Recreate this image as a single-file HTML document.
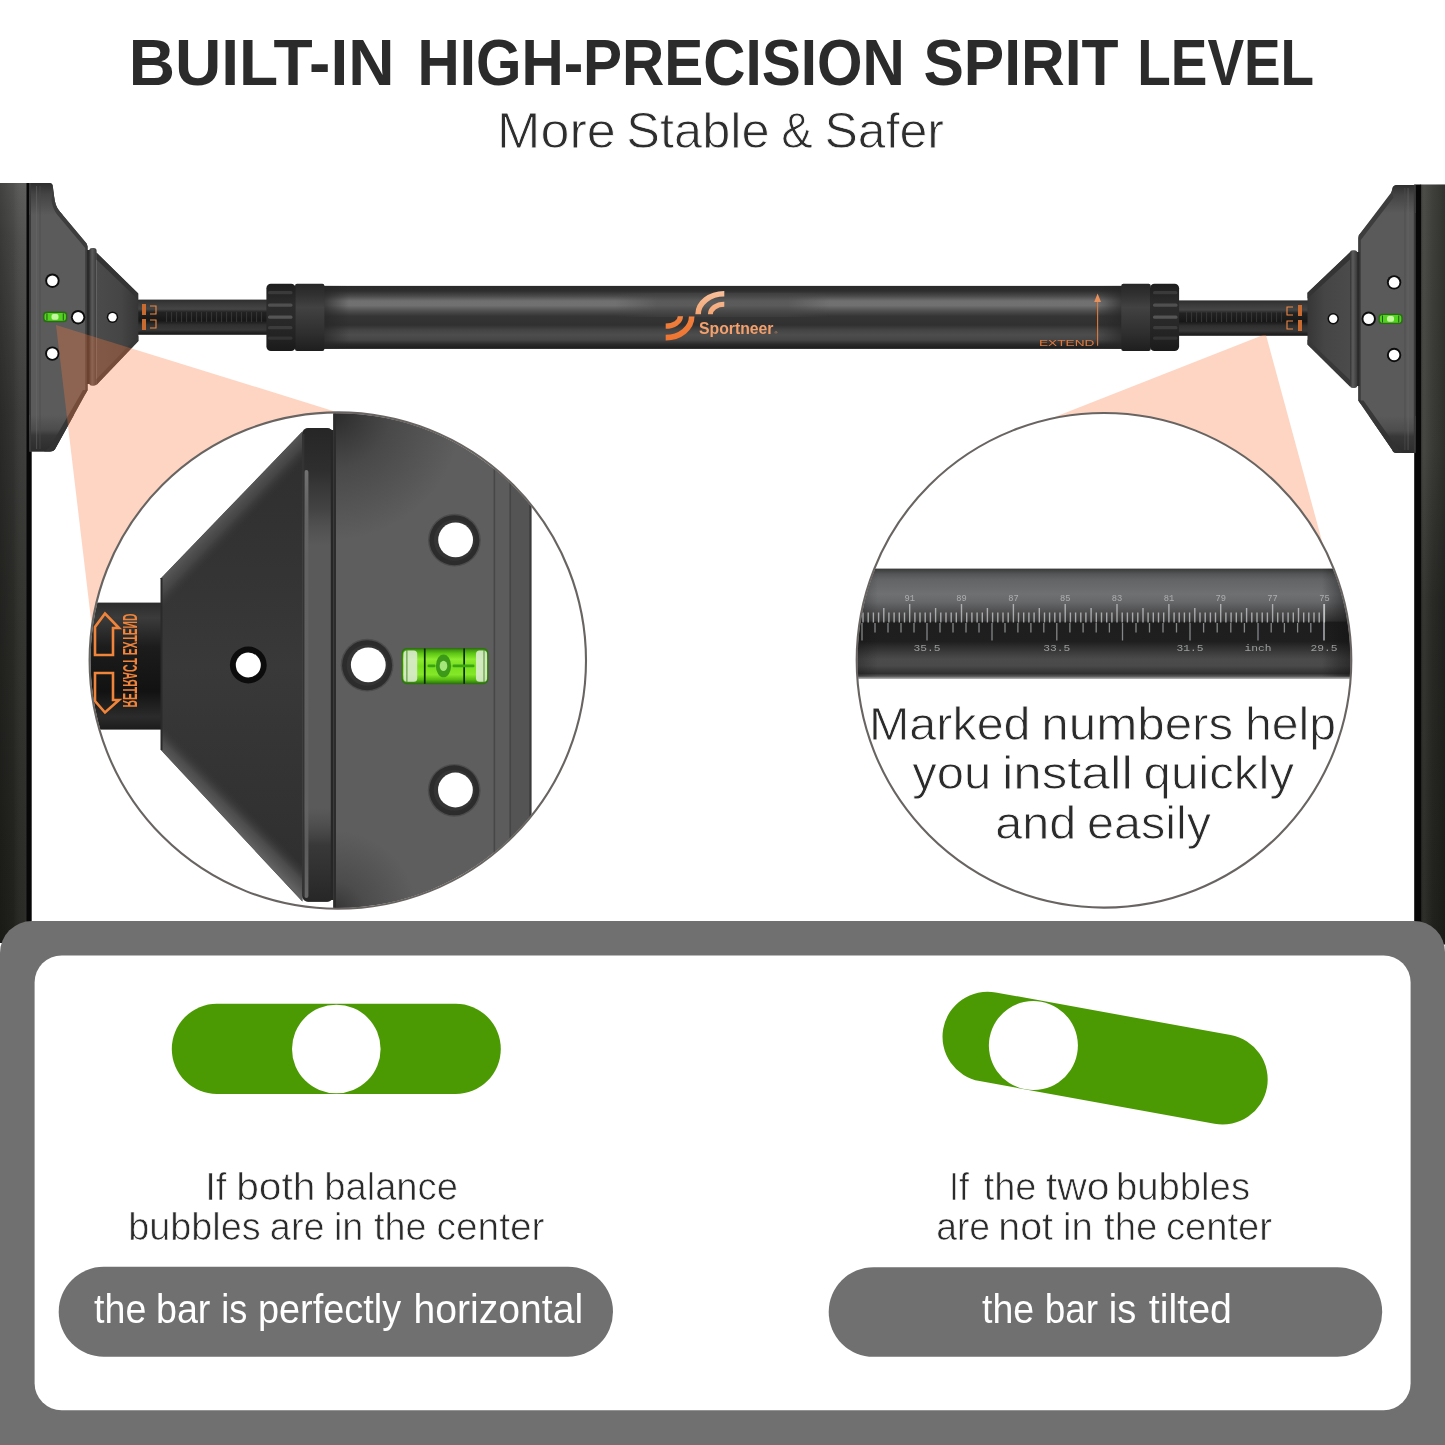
<!DOCTYPE html>
<html lang="en"><head><meta charset="utf-8"><title>Built-in high-precision spirit level</title>
<style>
html,body{margin:0;padding:0;background:#fff;}
body{width:1445px;height:1445px;overflow:hidden;}
svg{display:block;will-change:transform;}
text{font-family:"Liberation Sans",sans-serif;}
.mono text{font-family:"Liberation Mono","DejaVu Sans Mono",monospace;}
</style></head><body>
<svg width="1445" height="1445" viewBox="0 0 1445 1445">
<defs>
<linearGradient id="gTube" x1="0" y1="0" x2="0" y2="1">
 <stop offset="0" stop-color="#292929"/><stop offset="0.08" stop-color="#2e2e2e"/><stop offset="0.16" stop-color="#4a4a4a"/><stop offset="0.24" stop-color="#707070"/><stop offset="0.31" stop-color="#717171"/>
 <stop offset="0.4" stop-color="#4e4e4e"/><stop offset="0.48" stop-color="#353535"/><stop offset="0.62" stop-color="#303030"/><stop offset="0.7" stop-color="#444"/><stop offset="0.78" stop-color="#4d4d4d"/>
 <stop offset="0.86" stop-color="#454545"/><stop offset="0.93" stop-color="#2a2a2a"/><stop offset="1" stop-color="#1c1c1c"/>
</linearGradient>
<linearGradient id="gThin" x1="0" y1="0" x2="0" y2="1">
 <stop offset="0" stop-color="#2e2e2e"/><stop offset="0.12" stop-color="#3a3a3a"/><stop offset="0.27" stop-color="#454545"/><stop offset="0.36" stop-color="#222"/><stop offset="0.6" stop-color="#171717"/>
 <stop offset="0.72" stop-color="#303030"/><stop offset="0.86" stop-color="#383838"/><stop offset="0.94" stop-color="#222"/><stop offset="1" stop-color="#181818"/>
</linearGradient>
<linearGradient id="gNut" x1="0" y1="0" x2="0" y2="1">
 <stop offset="0" stop-color="#1e1e1e"/><stop offset="0.3" stop-color="#2c2c2c"/><stop offset="0.5" stop-color="#2a2a2a"/><stop offset="0.8" stop-color="#222"/><stop offset="1" stop-color="#1a1a1a"/>
</linearGradient>
<linearGradient id="gCollar" x1="0" y1="0" x2="0" y2="1">
 <stop offset="0" stop-color="#272727"/><stop offset="0.15" stop-color="#303030"/><stop offset="0.35" stop-color="#424242"/><stop offset="0.5" stop-color="#3a3a3a"/><stop offset="0.75" stop-color="#2e2e2e"/><stop offset="1" stop-color="#1e1e1e"/>
</linearGradient>
<linearGradient id="gRimL" x1="0" y1="0" x2="1" y2="0">
 <stop offset="0" stop-color="#222"/><stop offset="0.35" stop-color="#3a3a3a"/><stop offset="0.7" stop-color="#303030"/><stop offset="1" stop-color="#2a2a2a"/>
</linearGradient>
<linearGradient id="gRimR" x1="1" y1="0" x2="0" y2="0">
 <stop offset="0" stop-color="#222"/><stop offset="0.35" stop-color="#3a3a3a"/><stop offset="0.7" stop-color="#303030"/><stop offset="1" stop-color="#2a2a2a"/>
</linearGradient>
<linearGradient id="gStripL" x1="0" y1="0" x2="1" y2="0">
 <stop offset="0" stop-color="#30312c"/><stop offset="0.45" stop-color="#3a3b36"/><stop offset="0.8" stop-color="#33342f"/><stop offset="0.86" stop-color="#0a0a0a"/><stop offset="1" stop-color="#050505"/>
</linearGradient>
<linearGradient id="gStripR" x1="1" y1="0" x2="0" y2="0">
 <stop offset="0" stop-color="#30312c"/><stop offset="0.45" stop-color="#3a3b36"/><stop offset="0.76" stop-color="#33342f"/><stop offset="0.8" stop-color="#0a0a0a"/><stop offset="1" stop-color="#050505"/>
</linearGradient>
<linearGradient id="gBigThin" x1="0" y1="0" x2="0" y2="1">
 <stop offset="0" stop-color="#2c2c2c"/><stop offset="0.12" stop-color="#3b3b3b"/><stop offset="0.35" stop-color="#1c1c1c"/>
 <stop offset="0.7" stop-color="#121212"/><stop offset="0.9" stop-color="#2b2b2b"/><stop offset="1" stop-color="#1b1b1b"/>
</linearGradient>
<linearGradient id="gBigCone" x1="0" y1="0" x2="0" y2="1">
 <stop offset="0" stop-color="#2e2e2e"/><stop offset="0.35" stop-color="#353535"/><stop offset="0.5" stop-color="#393939"/><stop offset="0.65" stop-color="#353535"/><stop offset="1" stop-color="#2e2e2e"/>
</linearGradient>
<linearGradient id="gBigFlange" x1="0" y1="0" x2="1" y2="0">
 <stop offset="0" stop-color="#2a2a2a"/><stop offset="0.25" stop-color="#4c4c4c"/><stop offset="0.6" stop-color="#3a3a3a"/><stop offset="0.92" stop-color="#1c1c1c"/><stop offset="1" stop-color="#161616"/>
</linearGradient>
<linearGradient id="gBigPlate" x1="0" y1="0" x2="1" y2="0">
 <stop offset="0" stop-color="#3a3a3a"/><stop offset="0.04" stop-color="#4e4e4e"/><stop offset="0.15" stop-color="#494949"/><stop offset="1" stop-color="#474747"/>
</linearGradient>
<linearGradient id="gRuler" gradientUnits="userSpaceOnUse" x1="0" y1="568.6" x2="0" y2="679">
 <stop offset="0" stop-color="#383838"/><stop offset="0.05" stop-color="#555657"/><stop offset="0.1" stop-color="#636466"/><stop offset="0.23" stop-color="#6e7072"/><stop offset="0.3" stop-color="#66686a"/>
 <stop offset="0.4" stop-color="#4c4c4d"/><stop offset="0.475" stop-color="#353535"/><stop offset="0.485" stop-color="#1e1e1e"/><stop offset="0.66" stop-color="#1f1f1f"/><stop offset="0.76" stop-color="#3c3c3c"/>
 <stop offset="0.82" stop-color="#4b4b4b"/><stop offset="0.88" stop-color="#4a4a4a"/><stop offset="0.95" stop-color="#303030"/><stop offset="0.975" stop-color="#555"/><stop offset="1" stop-color="#bbb"/>
</linearGradient>
<linearGradient id="gVial" x1="0" y1="0" x2="0" y2="1">
 <stop offset="0" stop-color="#3c8c10"/><stop offset="0.12" stop-color="#5cc414"/><stop offset="0.3" stop-color="#8cec30"/><stop offset="0.5" stop-color="#78de1c"/><stop offset="0.75" stop-color="#84e828"/><stop offset="0.9" stop-color="#58bc12"/><stop offset="1" stop-color="#357f0d"/>
</linearGradient>
<linearGradient id="gShade" x1="0" y1="0" x2="0" y2="1">
 <stop offset="0" stop-color="#000" stop-opacity="0"/><stop offset="0.35" stop-color="#000" stop-opacity="0.25"/><stop offset="1" stop-color="#000" stop-opacity="0.5"/>
</linearGradient>
<linearGradient id="gLogo" gradientUnits="userSpaceOnUse" x1="0" y1="291" x2="0" y2="343">
 <stop offset="0" stop-color="#f8c09c"/><stop offset="0.42" stop-color="#f5a877"/><stop offset="0.52" stop-color="#f07e3c"/><stop offset="1" stop-color="#ee7430"/>
</linearGradient>
<linearGradient id="gPlateV" x1="0" y1="0" x2="0" y2="1">
 <stop offset="0" stop-color="#000" stop-opacity="0.12"/><stop offset="0.3" stop-color="#000" stop-opacity="0"/><stop offset="0.6" stop-color="#fff" stop-opacity="0"/><stop offset="1" stop-color="#fff" stop-opacity="0.14"/>
</linearGradient>
<linearGradient id="gStripV" gradientUnits="userSpaceOnUse" x1="0" y1="183" x2="0" y2="943">
 <stop offset="0" stop-color="#585856"/><stop offset="0.07" stop-color="#4c4c4a"/><stop offset="0.16" stop-color="#444442"/><stop offset="0.3" stop-color="#383936"/><stop offset="0.52" stop-color="#2e2f2b"/><stop offset="1" stop-color="#22231e"/>
</linearGradient>
<linearGradient id="gStripV2" gradientUnits="userSpaceOnUse" x1="0" y1="183" x2="0" y2="943">
 <stop offset="0" stop-color="#42433f"/><stop offset="0.1" stop-color="#40413c"/><stop offset="0.35" stop-color="#3c3d38"/><stop offset="0.55" stop-color="#2b2c28"/><stop offset="1" stop-color="#22231e"/>
</linearGradient>
<linearGradient id="gStripHL" x1="0" y1="0" x2="1" y2="0">
 <stop offset="0" stop-color="#000" stop-opacity="0.25"/><stop offset="0.5" stop-color="#000" stop-opacity="0.08"/><stop offset="0.85" stop-color="#fff" stop-opacity="0.035"/><stop offset="1" stop-color="#fff" stop-opacity="0.05"/>
</linearGradient>
<linearGradient id="gStripHR" x1="1" y1="0" x2="0" y2="0">
 <stop offset="0" stop-color="#000" stop-opacity="0.25"/><stop offset="0.5" stop-color="#000" stop-opacity="0.05"/><stop offset="0.85" stop-color="#fff" stop-opacity="0.05"/><stop offset="1" stop-color="#000" stop-opacity="0.1"/>
</linearGradient>
<linearGradient id="gTubeEndL" x1="0" y1="0" x2="1" y2="0"><stop offset="0" stop-color="#262626" stop-opacity="0.75"/><stop offset="1" stop-color="#262626" stop-opacity="0"/></linearGradient>
<linearGradient id="gTubeEndR" x1="1" y1="0" x2="0" y2="0"><stop offset="0" stop-color="#262626" stop-opacity="0.75"/><stop offset="1" stop-color="#262626" stop-opacity="0"/></linearGradient>
<linearGradient id="gRimTop" gradientUnits="userSpaceOnUse" x1="0" y1="183" x2="0" y2="215"><stop offset="0" stop-color="#2e2e2e"/><stop offset="0.35" stop-color="#444" /><stop offset="0.7" stop-color="#505050"/><stop offset="1" stop-color="#5b5b5b"/></linearGradient>
<linearGradient id="gRimBot" gradientUnits="userSpaceOnUse" x1="0" y1="415" x2="0" y2="452"><stop offset="0" stop-color="#5b5b5b"/><stop offset="0.4" stop-color="#4c4c4c"/><stop offset="0.55" stop-color="#383838"/><stop offset="1" stop-color="#2c2c2c"/></linearGradient>
<linearGradient id="gRimTop2" gradientUnits="userSpaceOnUse" x1="0" y1="185" x2="0" y2="213"><stop offset="0" stop-color="#2e2e2e"/><stop offset="0.35" stop-color="#444" /><stop offset="0.7" stop-color="#505050"/><stop offset="1" stop-color="#5a5a5a"/></linearGradient>
<linearGradient id="gRimBot2" gradientUnits="userSpaceOnUse" x1="0" y1="416" x2="0" y2="453"><stop offset="0" stop-color="#5a5a5a"/><stop offset="0.4" stop-color="#4c4c4c"/><stop offset="0.55" stop-color="#383838"/><stop offset="1" stop-color="#2c2c2c"/></linearGradient>
<linearGradient id="gFl2" x1="0" y1="0" x2="1" y2="0"><stop offset="0" stop-color="#333"/><stop offset="0.4" stop-color="#5c5c5c"/><stop offset="0.7" stop-color="#4a4a4a"/><stop offset="1" stop-color="#383838"/></linearGradient>
<linearGradient id="gBevT" gradientUnits="userSpaceOnUse" x1="231" y1="505" x2="249" y2="522"><stop offset="0" stop-color="#585858"/><stop offset="0.45" stop-color="#4a4a4a" stop-opacity="0.8"/><stop offset="1" stop-color="#303030" stop-opacity="0"/></linearGradient>
<linearGradient id="gBevB" gradientUnits="userSpaceOnUse" x1="231" y1="826" x2="249" y2="808"><stop offset="0" stop-color="#626262"/><stop offset="0.45" stop-color="#525252" stop-opacity="0.8"/><stop offset="1" stop-color="#303030" stop-opacity="0"/></linearGradient>
<linearGradient id="gFlV" gradientUnits="userSpaceOnUse" x1="0" y1="428" x2="0" y2="902">
 <stop offset="0" stop-color="#262626" stop-opacity="1"/><stop offset="0.09" stop-color="#2c2c2c" stop-opacity="0.95"/><stop offset="0.17" stop-color="#333" stop-opacity="0.6"/><stop offset="0.25" stop-color="#444" stop-opacity="0"/>
 <stop offset="0.8" stop-color="#444" stop-opacity="0"/><stop offset="0.88" stop-color="#303030" stop-opacity="0.8"/><stop offset="1" stop-color="#262626" stop-opacity="1"/>
</linearGradient>
<linearGradient id="gFlStreak" gradientUnits="userSpaceOnUse" x1="0" y1="470" x2="0" y2="898"><stop offset="0" stop-color="#7a7a7a" stop-opacity="0.9"/><stop offset="0.2" stop-color="#6a6a6a" stop-opacity="0.5"/><stop offset="0.75" stop-color="#686868" stop-opacity="0.5"/><stop offset="1" stop-color="#6e6e6e" stop-opacity="0.9"/></linearGradient>
<radialGradient id="gPlTL" gradientUnits="userSpaceOnUse" cx="333" cy="410" r="130"><stop offset="0" stop-color="#1c1c1c" stop-opacity="0.8"/><stop offset="0.45" stop-color="#222" stop-opacity="0.35"/><stop offset="1" stop-color="#222" stop-opacity="0"/></radialGradient>
<radialGradient id="gPlBL" gradientUnits="userSpaceOnUse" cx="333" cy="915" r="85"><stop offset="0" stop-color="#1c1c1c" stop-opacity="0.7"/><stop offset="0.4" stop-color="#222" stop-opacity="0.3"/><stop offset="1" stop-color="#222" stop-opacity="0"/></radialGradient>
<linearGradient id="gPatch" x1="0" y1="0" x2="1" y2="0"><stop offset="0" stop-color="#444" stop-opacity="0"/><stop offset="0.2" stop-color="#444" stop-opacity="0.5"/><stop offset="0.8" stop-color="#444" stop-opacity="0.5"/><stop offset="1" stop-color="#444" stop-opacity="0"/></linearGradient>
<linearGradient id="gCone2L" gradientUnits="userSpaceOnUse" x1="96" y1="0" x2="138" y2="0"><stop offset="0" stop-color="#4b4b4b"/><stop offset="0.6" stop-color="#454545"/><stop offset="1" stop-color="#363636"/></linearGradient>
<linearGradient id="gCone2R" gradientUnits="userSpaceOnUse" x1="1350" y1="0" x2="1307" y2="0"><stop offset="0" stop-color="#4b4b4b"/><stop offset="0.6" stop-color="#454545"/><stop offset="1" stop-color="#363636"/></linearGradient>
<linearGradient id="gRulEndR" x1="0" y1="0" x2="1" y2="0"><stop offset="0" stop-color="#111" stop-opacity="0"/><stop offset="0.5" stop-color="#111" stop-opacity="0.35"/><stop offset="1" stop-color="#111" stop-opacity="0.6"/></linearGradient>
<linearGradient id="gRulEndL" x1="1" y1="0" x2="0" y2="0"><stop offset="0" stop-color="#111" stop-opacity="0"/><stop offset="1" stop-color="#111" stop-opacity="0.4"/></linearGradient>
<clipPath id="clipL"><circle cx="337.8" cy="660.6" r="247.4"/></clipPath>
<clipPath id="clipR"><circle cx="1104" cy="660.3" r="246.6"/></clipPath>
</defs>
<rect x="0" y="0" width="1445" height="1445" fill="#ffffff"/>

<text y="84.9" font-size="64.4" font-weight="700" fill="#2b2b2b">
<tspan x="128.75" textLength="265.80" lengthAdjust="spacingAndGlyphs">BUILT-IN</tspan> 
<tspan x="417.53" textLength="487.15" lengthAdjust="spacingAndGlyphs">HIGH-PRECISION</tspan> 
<tspan x="923.43" textLength="195.13" lengthAdjust="spacingAndGlyphs">SPIRIT</tspan> 
<tspan x="1137.25" textLength="176.91" lengthAdjust="spacingAndGlyphs">LEVEL</tspan>
</text>
<text y="148.1" font-size="49.4" stroke="#fff" stroke-width="0.89" fill="#2e2e2e">
<tspan x="497.14" textLength="118.62" lengthAdjust="spacingAndGlyphs">More</tspan> 
<tspan x="626.38" textLength="143.20" lengthAdjust="spacingAndGlyphs">Stable</tspan> 
<tspan x="781.31" textLength="31.44" lengthAdjust="spacingAndGlyphs">&amp;</tspan> 
<tspan x="824.49" textLength="119.55" lengthAdjust="spacingAndGlyphs">Safer</tspan>
</text>
<rect x="0" y="183" width="27" height="760" fill="url(#gStripV)"/>
<rect x="0" y="183" width="27" height="760" fill="url(#gStripHL)"/>
<rect x="26.5" y="183" width="5.2" height="760" fill="#070707"/>
<rect x="1420.5" y="184.5" width="24.5" height="760" fill="url(#gStripV2)"/>
<rect x="1420.5" y="184.5" width="24.5" height="760" fill="url(#gStripHR)"/>
<rect x="1414.2" y="184.5" width="6.9" height="760" fill="#070707"/>
<g id="bar">
<rect x="136" y="299.6" width="132" height="35.2" fill="url(#gThin)"/>
<rect x="1178" y="300.4" width="132" height="35.4" fill="url(#gThin)"/>
<rect x="166" y="312" width="1.1" height="10" fill="#3a3a3a" opacity="0.8"/>
<rect x="171" y="312" width="1.1" height="10" fill="#3a3a3a" opacity="0.8"/>
<rect x="176" y="312" width="1.1" height="10" fill="#3a3a3a" opacity="0.8"/>
<rect x="181" y="312" width="1.1" height="10" fill="#3a3a3a" opacity="0.8"/>
<rect x="186" y="312" width="1.1" height="10" fill="#3a3a3a" opacity="0.8"/>
<rect x="191" y="312" width="1.1" height="10" fill="#3a3a3a" opacity="0.8"/>
<rect x="196" y="312" width="1.1" height="10" fill="#3a3a3a" opacity="0.8"/>
<rect x="201" y="312" width="1.1" height="10" fill="#3a3a3a" opacity="0.8"/>
<rect x="206" y="312" width="1.1" height="10" fill="#3a3a3a" opacity="0.8"/>
<rect x="211" y="312" width="1.1" height="10" fill="#3a3a3a" opacity="0.8"/>
<rect x="216" y="312" width="1.1" height="10" fill="#3a3a3a" opacity="0.8"/>
<rect x="221" y="312" width="1.1" height="10" fill="#3a3a3a" opacity="0.8"/>
<rect x="226" y="312" width="1.1" height="10" fill="#3a3a3a" opacity="0.8"/>
<rect x="231" y="312" width="1.1" height="10" fill="#3a3a3a" opacity="0.8"/>
<rect x="236" y="312" width="1.1" height="10" fill="#3a3a3a" opacity="0.8"/>
<rect x="241" y="312" width="1.1" height="10" fill="#3a3a3a" opacity="0.8"/>
<rect x="246" y="312" width="1.1" height="10" fill="#3a3a3a" opacity="0.8"/>
<rect x="251" y="312" width="1.1" height="10" fill="#3a3a3a" opacity="0.8"/>
<rect x="256" y="312" width="1.1" height="10" fill="#3a3a3a" opacity="0.8"/>
<rect x="261" y="312" width="1.1" height="10" fill="#3a3a3a" opacity="0.8"/>
<rect x="1186" y="312" width="1.1" height="10" fill="#3a3a3a" opacity="0.8"/>
<rect x="1191" y="312" width="1.1" height="10" fill="#3a3a3a" opacity="0.8"/>
<rect x="1196" y="312" width="1.1" height="10" fill="#3a3a3a" opacity="0.8"/>
<rect x="1201" y="312" width="1.1" height="10" fill="#3a3a3a" opacity="0.8"/>
<rect x="1206" y="312" width="1.1" height="10" fill="#3a3a3a" opacity="0.8"/>
<rect x="1211" y="312" width="1.1" height="10" fill="#3a3a3a" opacity="0.8"/>
<rect x="1216" y="312" width="1.1" height="10" fill="#3a3a3a" opacity="0.8"/>
<rect x="1221" y="312" width="1.1" height="10" fill="#3a3a3a" opacity="0.8"/>
<rect x="1226" y="312" width="1.1" height="10" fill="#3a3a3a" opacity="0.8"/>
<rect x="1231" y="312" width="1.1" height="10" fill="#3a3a3a" opacity="0.8"/>
<rect x="1236" y="312" width="1.1" height="10" fill="#3a3a3a" opacity="0.8"/>
<rect x="1241" y="312" width="1.1" height="10" fill="#3a3a3a" opacity="0.8"/>
<rect x="1246" y="312" width="1.1" height="10" fill="#3a3a3a" opacity="0.8"/>
<rect x="1251" y="312" width="1.1" height="10" fill="#3a3a3a" opacity="0.8"/>
<rect x="1256" y="312" width="1.1" height="10" fill="#3a3a3a" opacity="0.8"/>
<rect x="1261" y="312" width="1.1" height="10" fill="#3a3a3a" opacity="0.8"/>
<rect x="1266" y="312" width="1.1" height="10" fill="#3a3a3a" opacity="0.8"/>
<rect x="1271" y="312" width="1.1" height="10" fill="#3a3a3a" opacity="0.8"/>
<rect x="1276" y="312" width="1.1" height="10" fill="#3a3a3a" opacity="0.8"/>
<rect x="1281" y="312" width="1.1" height="10" fill="#3a3a3a" opacity="0.8"/>
<rect x="323" y="285.9" width="799.5" height="63" fill="url(#gTube)"/>
<rect x="323" y="285.9" width="26" height="63" fill="url(#gTubeEndL)"/>
<rect x="1096.5" y="285.9" width="26" height="63" fill="url(#gTubeEndR)"/>
<rect x="295" y="283.8" width="29.4" height="67.2" rx="2" fill="url(#gCollar)"/>
<rect x="1121.3" y="283.8" width="29.4" height="67.2" rx="2" fill="url(#gCollar)"/>
<rect x="266.4" y="283.8" width="29.2" height="67.2" rx="4.5" fill="url(#gNut)"/>
<rect x="1150" y="283.8" width="29.1" height="67.2" rx="4.5" fill="url(#gNut)"/>
<rect x="268" y="291" width="24.5" height="3.2" rx="1.5" fill="#3a3a3a"/>
<rect x="1153" y="291" width="24.5" height="3.2" rx="1.5" fill="#3a3a3a"/>
<rect x="268" y="303.5" width="24.5" height="3.2" rx="1.5" fill="#505050"/>
<rect x="1153" y="303.5" width="24.5" height="3.2" rx="1.5" fill="#505050"/>
<rect x="268" y="315.5" width="24.5" height="3.2" rx="1.5" fill="#555"/>
<rect x="1153" y="315.5" width="24.5" height="3.2" rx="1.5" fill="#555"/>
<rect x="268" y="326" width="24.5" height="3.2" rx="1.5" fill="#3c3c3c"/>
<rect x="1153" y="326" width="24.5" height="3.2" rx="1.5" fill="#3c3c3c"/>
<rect x="268" y="336.5" width="24.5" height="3.2" rx="1.5" fill="#333"/>
<rect x="1153" y="336.5" width="24.5" height="3.2" rx="1.5" fill="#333"/>
</g>
<g id="brL">
<path d="M29.4 183.1 H49.5 Q52.8 183.1 52.9 187 L54.6 200 Q56 207.5 60 211.8 L86.6 243.4 L87.6 246.5 V390 L54.8 449.5 Q53.5 451.6 50 451.6 H29.4 Z" fill="#5b5b5b"/>
<path d="M29.4 183.1 H49.5 Q52.8 183.1 52.9 187 L54.6 200 Q56 207.5 60 211.8 L62.7 215 H29.4 Z" fill="url(#gRimTop)"/>
<path d="M29.4 415 H74 L54.8 449.5 Q53.5 451.6 50 451.6 H29.4 Z" fill="url(#gRimBot)"/>
<path d="M52.9 190 L54.6 200 Q56 207.5 60 211.8 L86.6 243.4 L87.6 246.5 V390 L85.2 394.5 V248 L57.5 215 Q52.5 209 51.5 200 Z" fill="#3d3d3d"/>
<path d="M87.6 390 L54.8 449.5 Q53.5 451.6 50 451.6 H44 L50 447 L83 390 Z" fill="#333" opacity="0.85"/>
<rect x="29.4" y="183.1" width="1.6" height="268.5" fill="#3a3a3a"/>
<rect x="36.2" y="186" width="0.9" height="263" fill="#6a6a6a" opacity="0.6"/><rect x="39.5" y="186" width="1" height="263" fill="#4c4c4c" opacity="0.7"/>
<rect x="87" y="250" width="3" height="134" fill="#2a2a2a"/>
<rect x="89.2" y="247.9" width="7.4" height="137.8" rx="3" fill="url(#gFl2)"/>
<path d="M96.4 252.5 L138.2 293.5 L138.4 341 L96.4 385 Z" fill="url(#gCone2L)"/>
<path d="M96.4 252.5 L138.2 293.5 V299.5 L96.4 259.5 Z" fill="#343434"/>
<path d="M96.4 385 L138.4 341 V336 L96.4 379 Z" fill="#383838"/>
<circle cx="52.4" cy="280.7" r="7.2" fill="#0d0d0d"/><circle cx="52.4" cy="280.7" r="5.3" fill="#fff"/>
<circle cx="78.1" cy="317.2" r="7.2" fill="#0d0d0d"/><circle cx="78.1" cy="317.2" r="5.3" fill="#fff"/>
<circle cx="52.3" cy="353.6" r="7.2" fill="#0d0d0d"/><circle cx="52.3" cy="353.6" r="5.3" fill="#fff"/>
<circle cx="112.5" cy="317.2" r="5.7" fill="#0d0d0d"/><circle cx="112.5" cy="317.2" r="4.2" fill="#fff"/>
<rect x="43" y="311.6" width="24.4" height="10.6" rx="3.5" fill="#2c6a1a"/><rect x="44.5" y="313" width="21.4" height="7.8" rx="2.8" fill="#52d41f"/><rect x="51.5" y="314" width="7" height="5.8" rx="2" fill="#c5f7a0"/><rect x="46.5" y="313.4" width="0.9" height="7" fill="#1c4a10"/><rect x="62.8" y="313.4" width="0.9" height="7" fill="#1c4a10"/>
<g fill="none" stroke="#f08a45" stroke-width="1.1"><path d="M150 306 h6 v8 h-6 M150 320 h6 v8 h-6"/></g>
<rect x="142" y="304" width="4" height="11" fill="#c96a30"/><rect x="142" y="319" width="4" height="11" fill="#c96a30"/>
</g>
<g id="brR">
<path d="M1415.4 184.9 H1397 Q1393 184.9 1392.4 188.5 L1390.5 196 L1358.8 235.2 L1358.3 238 V400.6 L1392.2 449.8 Q1393.2 453 1397 453 H1415.4 Z" fill="#5a5a5a"/>
<path d="M1415.4 184.9 H1397 Q1393 184.9 1392.4 188.5 L1390.5 196 L1377 213 H1415.4 Z" fill="url(#gRimTop2)"/>
<path d="M1415.4 416 H1369 L1392.2 449.8 Q1393.2 453 1397 453 H1415.4 Z" fill="url(#gRimBot2)"/>
<path d="M1392 191.5 L1358.8 235.2 L1358.3 238 V400.6 L1360.8 404 V240 L1393.5 197.5 Z" fill="#3d3d3d"/>
<path d="M1358.3 400.6 L1392.2 449.8 Q1393.2 453 1397 453 H1403 L1397 447.5 L1363.5 400.6 Z" fill="#333" opacity="0.85"/>
<rect x="1413.8" y="184.9" width="1.6" height="268" fill="#3a3a3a"/>
<rect x="1407.6" y="188" width="0.9" height="262" fill="#6a6a6a" opacity="0.6"/><rect x="1404.4" y="188" width="1" height="262" fill="#4c4c4c" opacity="0.7"/>
<rect x="1356.5" y="252" width="3" height="134" fill="#2a2a2a"/>
<rect x="1349.9" y="250.3" width="7.4" height="137.8" rx="3" fill="url(#gFl2)"/>
<path d="M1350 252.3 L1307.5 292.8 V344.5 L1350 386.5 Z" fill="url(#gCone2R)"/>
<path d="M1350 252.3 L1307.5 292.8 V298.5 L1350 259.5 Z" fill="#343434"/>
<path d="M1350 386.5 L1307.5 344.5 V339.5 L1350 380 Z" fill="#383838"/>
<circle cx="1394.1" cy="282.4" r="7.2" fill="#0d0d0d"/><circle cx="1394.1" cy="282.4" r="5.3" fill="#fff"/>
<circle cx="1368.7" cy="318.8" r="7.2" fill="#0d0d0d"/><circle cx="1368.7" cy="318.8" r="5.3" fill="#fff"/>
<circle cx="1394.1" cy="355" r="7.2" fill="#0d0d0d"/><circle cx="1394.1" cy="355" r="5.3" fill="#fff"/>
<circle cx="1333.2" cy="318.8" r="5.7" fill="#0d0d0d"/><circle cx="1333.2" cy="318.8" r="4.2" fill="#fff"/>
<rect x="1378.4" y="313.8" width="24.4" height="10.2" rx="3.5" fill="#2c6a1a"/><rect x="1379.9" y="315.1" width="21.4" height="7.6" rx="2.8" fill="#52d41f"/><rect x="1387" y="316" width="7" height="5.8" rx="2" fill="#c5f7a0"/><rect x="1382" y="315.5" width="0.9" height="7" fill="#1c4a10"/><rect x="1398.3" y="315.5" width="0.9" height="7" fill="#1c4a10"/>
<g fill="none" stroke="#f08a45" stroke-width="1.1"><path d="M1293 307 h-6 v8 h6 M1293 321 h-6 v8 h6"/></g>
<rect x="1298" y="305" width="4" height="11" fill="#c96a30"/><rect x="1298" y="320" width="4" height="11" fill="#c96a30"/>
</g>
<rect x="615" y="293" width="215" height="24" fill="url(#gPatch)"/>
<g id="logo" fill="none" stroke="url(#gLogo)" stroke-width="5.6">
<path d="M724.3 293.8 A26.2 20.5 0 0 0 698.1 314.3"/>
<path d="M724.3 304.2 A13.9 10 0 0 0 710.4 314.2" stroke-width="5"/>
<path d="M665.7 337.6 A26 21 0 0 0 691.7 316.6"/>
<path d="M665.7 326.2 A14.7 9.9 0 0 0 680.4 316.3" stroke-width="5.2"/>
</g>
<text x="699" y="333.8" font-size="15.6" font-weight="700" fill="#f3a06c" textLength="74.5" lengthAdjust="spacingAndGlyphs">Sportneer</text>
<text x="774.5" y="333.8" font-size="4" fill="#f3a06c">®</text>
<text x="1039" y="345.6" font-size="9.2" fill="#e07a3e" textLength="55.5" lengthAdjust="spacingAndGlyphs">EXTEND</text>
<path d="M1097.6 345.8 V301" stroke="#e07a3e" stroke-width="1.1" fill="none"/><path d="M1097.6 293.5 L1094.2 302 H1101 Z" fill="#e8915c"/>
<path d="M56 325 L338 412.4 A248.2 248.2 0 0 0 91.8 626 Z" fill="#f9793b" fill-opacity="0.315"/>
<path d="M1263.2 335 L1266 335 L1324 548.5 A247.3 247.3 0 0 0 1049 419.2 Z" fill="#f9793b" fill-opacity="0.315"/>
<circle cx="337.8" cy="660.6" r="248.2" fill="#fff"/>
<g clip-path="url(#clipL)">
<rect x="80" y="602.6" width="82" height="127" fill="url(#gBigThin)"/>
<g fill="none" stroke="#f0843a" stroke-width="2.6" stroke-linejoin="miter"><path d="M95 655 V627 L105 613.5 L119 628 H113 V655 Z M95 673 V701 L105 712.5 L119 700 H113 V673 Z"/></g>
<text transform="translate(122.8 660.5) rotate(90) scale(-1 1)" text-anchor="middle" font-size="19.5" font-weight="700" fill="#f0843a" textLength="94" lengthAdjust="spacingAndGlyphs">RETRACT EXTEND</text>
<path d="M161 578.2 L302.4 431.5 V901.5 L161 750.1 Z" fill="url(#gBigCone)"/>
<path d="M161 578.2 L302.4 431.5 V466 L161 612 Z" fill="url(#gBevT)"/>
<path d="M161 750.1 L302.4 901.5 V866 L161 716 Z" fill="url(#gBevB)"/>
<rect x="160.5" y="578" width="2" height="172" fill="#2a2a2a"/>
<rect x="302.2" y="428" width="31" height="473.7" rx="6" fill="#5a5a5a"/>
<rect x="302.2" y="428" width="31" height="473.7" rx="6" fill="url(#gFlV)"/>
<rect x="304.4" y="470" width="4" height="428" rx="2" fill="url(#gFlStreak)"/>
<rect x="302.2" y="434" width="2.2" height="462" fill="#333"/>
<rect x="330.8" y="430" width="3" height="470" fill="#262626"/>
<rect x="333.4" y="400" width="198" height="530" fill="#5e5e5e"/>
<rect x="333.4" y="400" width="198" height="530" fill="url(#gPlTL)"/>
<rect x="333.4" y="400" width="198" height="530" fill="url(#gPlBL)"/>
<rect x="333.4" y="400" width="2.6" height="530" fill="#2c2c2c"/>
<rect x="493.6" y="400" width="1.8" height="530" fill="#474747"/><rect x="495.4" y="400" width="14" height="530" fill="#5c5c5c"/><rect x="509.4" y="400" width="2" height="530" fill="#454545"/><rect x="511.4" y="400" width="19.6" height="530" fill="#545454"/><rect x="529.4" y="400" width="2" height="530" fill="#3a3a3a"/>
<circle cx="454.4" cy="540.2" r="26.4" fill="#4c4c4c"/><circle cx="454.4" cy="540.2" r="25" fill="#2c2c2c"/><circle cx="454.4" cy="540.2" r="20.5" fill="#343434"/><circle cx="455.59999999999997" cy="539.9000000000001" r="17.4" fill="#fff"/>
<circle cx="367.1" cy="665.2" r="26.4" fill="#4c4c4c"/><circle cx="367.1" cy="665.2" r="25" fill="#2c2c2c"/><circle cx="367.1" cy="665.2" r="20.5" fill="#343434"/><circle cx="368.3" cy="664.9000000000001" r="17.4" fill="#fff"/>
<circle cx="454.2" cy="790.3" r="26.4" fill="#4c4c4c"/><circle cx="454.2" cy="790.3" r="25" fill="#2c2c2c"/><circle cx="454.2" cy="790.3" r="20.5" fill="#343434"/><circle cx="455.4" cy="790.0" r="17.4" fill="#fff"/>
<circle cx="248.3" cy="665" r="18.4" fill="#0c0c0c"/><circle cx="248.3" cy="665" r="12.5" fill="#fff"/>
<rect x="401.6" y="648" width="86.8" height="36.2" rx="5" fill="#2f7412"/>
<rect x="402.8" y="649.2" width="84.4" height="33.8" rx="4.5" fill="url(#gVial)"/>
<rect x="403.6" y="650.4" width="13.6" height="31.4" rx="3.5" fill="#dbead0" opacity="0.9"/><rect x="476" y="650.4" width="11" height="31.4" rx="3.5" fill="#dbead0" opacity="0.9"/>
<rect x="406.4" y="650" width="1" height="32" fill="#4f8f2a"/><rect x="483.5" y="650" width="1" height="32" fill="#4f8f2a"/>
<rect x="423.9" y="648.4" width="1.7" height="35.4" fill="#0d2a05"/><rect x="463.3" y="648.4" width="1.7" height="35.4" fill="#0d2a05"/>
<rect x="427.5" y="664.6" width="8" height="2.6" rx="1.3" fill="#3aa514"/><rect x="452.5" y="664.6" width="22" height="2.6" rx="1.3" fill="#3aa514"/>
<ellipse cx="443.5" cy="665.9" rx="7.6" ry="11.4" fill="#3c9a18"/><ellipse cx="443.5" cy="665.9" rx="3.8" ry="5.2" fill="#a5e77a"/>
</g>
<circle cx="337.8" cy="660.6" r="248.2" fill="none" stroke="#686462" stroke-width="2.1"/>
<circle cx="1104" cy="660.3" r="247.3" fill="#fff"/>
<g clip-path="url(#clipR)">
<rect x="850" y="568.6" width="510" height="110.4" fill="url(#gRuler)"/>
<rect x="1322" y="568.6" width="34" height="108" fill="url(#gRulEndR)"/><rect x="852" y="568.6" width="26" height="108" fill="url(#gRulEndL)"/>
<path d="M1324.4 604V622.5M1319.2 612.5V622.5M1314.0 612.5V622.5M1308.8 612.5V622.5M1303.7 612.5V622.5M1298.5 608V622.5M1293.3 612.5V622.5M1288.1 612.5V622.5M1282.9 612.5V622.5M1277.7 612.5V622.5M1272.6 604V622.5M1267.4 612.5V622.5M1262.2 612.5V622.5M1257.0 612.5V622.5M1251.8 612.5V622.5M1246.6 608V622.5M1241.5 612.5V622.5M1236.3 612.5V622.5M1231.1 612.5V622.5M1225.9 612.5V622.5M1220.7 604V622.5M1215.5 612.5V622.5M1210.4 612.5V622.5M1205.2 612.5V622.5M1200.0 612.5V622.5M1194.8 608V622.5M1189.6 612.5V622.5M1184.4 612.5V622.5M1179.2 612.5V622.5M1174.1 612.5V622.5M1168.9 604V622.5M1163.7 612.5V622.5M1158.5 612.5V622.5M1153.3 612.5V622.5M1148.1 612.5V622.5M1143.0 608V622.5M1137.8 612.5V622.5M1132.6 612.5V622.5M1127.4 612.5V622.5M1122.2 612.5V622.5M1117.0 604V622.5M1111.9 612.5V622.5M1106.7 612.5V622.5M1101.5 612.5V622.5M1096.3 612.5V622.5M1091.1 608V622.5M1085.9 612.5V622.5M1080.8 612.5V622.5M1075.6 612.5V622.5M1070.4 612.5V622.5M1065.2 604V622.5M1060.0 612.5V622.5M1054.8 612.5V622.5M1049.6 612.5V622.5M1044.5 612.5V622.5M1039.3 608V622.5M1034.1 612.5V622.5M1028.9 612.5V622.5M1023.7 612.5V622.5M1018.5 612.5V622.5M1013.4 604V622.5M1008.2 612.5V622.5M1003.0 612.5V622.5M997.8 612.5V622.5M992.6 612.5V622.5M987.4 608V622.5M982.3 612.5V622.5M977.1 612.5V622.5M971.9 612.5V622.5M966.7 612.5V622.5M961.5 604V622.5M956.3 612.5V622.5M951.2 612.5V622.5M946.0 612.5V622.5M940.8 612.5V622.5M935.6 608V622.5M930.4 612.5V622.5M925.2 612.5V622.5M920.0 612.5V622.5M914.9 612.5V622.5M909.7 604V622.5M904.5 612.5V622.5M899.3 612.5V622.5M894.1 612.5V622.5M888.9 612.5V622.5M883.8 608V622.5M878.6 612.5V622.5M873.4 612.5V622.5M868.2 612.5V622.5M863.0 612.5V622.5M857.8 604V622.5M852.7 612.5V622.5" stroke="#c9cbcc" stroke-opacity="0.75" stroke-width="1.4" fill="none"/>
<path d="M862.0 623V640.5M875.0 623V632.5M888.0 623V632.5M901.0 623V632.5M914.0 623V632.5M927.0 623V640.5M940.0 623V632.5M953.0 623V632.5M966.0 623V632.5M979.0 623V632.5M992.0 623V640.5M1005.0 623V632.5M1017.9 623V632.5M1030.9 623V632.5M1043.8 623V632.5M1056.8 623V640.5M1069.9 623V632.5M1083.1 623V632.5M1096.2 623V632.5M1109.4 623V632.5M1122.5 623V640.5M1136.0 623V632.5M1149.5 623V632.5M1163.0 623V632.5M1176.5 623V632.5M1190.0 623V640.5M1203.6 623V632.5M1217.2 623V632.5M1230.8 623V632.5M1244.4 623V632.5M1258.0 623V640.5M1271.2 623V632.5M1284.4 623V632.5M1297.6 623V632.5M1310.8 623V632.5" stroke="#b0b2b3" stroke-opacity="0.7" stroke-width="1.3" fill="none"/>
<path d="M1324 604V640.5" stroke="#c9cbcc" stroke-opacity="0.8" stroke-width="1.6"/>
<g font-size="8.4" fill="#c8cacb" fill-opacity="0.7" text-anchor="middle" class="mono">
<text x="1324.4" y="600.6" textLength="10.5" lengthAdjust="spacingAndGlyphs">75</text>
<text x="1272.6" y="600.6" textLength="10.5" lengthAdjust="spacingAndGlyphs">77</text>
<text x="1220.7" y="600.6" textLength="10.5" lengthAdjust="spacingAndGlyphs">79</text>
<text x="1168.9" y="600.6" textLength="10.5" lengthAdjust="spacingAndGlyphs">81</text>
<text x="1117.0" y="600.6" textLength="10.5" lengthAdjust="spacingAndGlyphs">83</text>
<text x="1065.2" y="600.6" textLength="10.5" lengthAdjust="spacingAndGlyphs">85</text>
<text x="1013.4" y="600.6" textLength="10.5" lengthAdjust="spacingAndGlyphs">87</text>
<text x="961.5" y="600.6" textLength="10.5" lengthAdjust="spacingAndGlyphs">89</text>
<text x="909.7" y="600.6" textLength="10.5" lengthAdjust="spacingAndGlyphs">91</text>
<text x="927" y="650.6" textLength="27" lengthAdjust="spacingAndGlyphs">35.5</text>
<text x="1056.8" y="650.6" textLength="27" lengthAdjust="spacingAndGlyphs">33.5</text>
<text x="1190" y="650.6" textLength="27" lengthAdjust="spacingAndGlyphs">31.5</text>
<text x="1258" y="650.6" textLength="27" lengthAdjust="spacingAndGlyphs">inch</text>
<text x="1324" y="650.6" textLength="27" lengthAdjust="spacingAndGlyphs">29.5</text>
</g>
</g>
<text y="739.7" font-size="46.5" stroke="#fff" stroke-width="0.84" fill="#2b2b2b">
<tspan x="869.00" textLength="161.58" lengthAdjust="spacingAndGlyphs">Marked</tspan> 
<tspan x="1041.34" textLength="191.86" lengthAdjust="spacingAndGlyphs">numbers</tspan> 
<tspan x="1245.04" textLength="91.03" lengthAdjust="spacingAndGlyphs">help</tspan>
</text>
<text y="789.1" font-size="46.5" stroke="#fff" stroke-width="0.84" fill="#2b2b2b">
<tspan x="912.36" textLength="78.99" lengthAdjust="spacingAndGlyphs">you</tspan> 
<tspan x="1001.90" textLength="130.89" lengthAdjust="spacingAndGlyphs">install</tspan> 
<tspan x="1143.52" textLength="150.49" lengthAdjust="spacingAndGlyphs">quickly</tspan>
</text>
<text y="839.1" font-size="46.5" stroke="#fff" stroke-width="0.84" fill="#2b2b2b">
<tspan x="995.36" textLength="80.92" lengthAdjust="spacingAndGlyphs">and</tspan> 
<tspan x="1086.91" textLength="124.10" lengthAdjust="spacingAndGlyphs">easily</tspan>
</text>
<circle cx="1104" cy="660.3" r="247.3" fill="none" stroke="#686462" stroke-width="2.1"/>
<path d="M0 1445 V953 A32 32 0 0 1 32 921 H1414 A31 31 0 0 1 1445 952 V1445 Z" fill="#707070"/>
<rect x="34.6" y="955.4" width="1376" height="454.8" rx="27" fill="#ffffff"/>
<rect x="171.8" y="1003.8" width="329" height="90.2" rx="45.1" fill="#4b9a03"/>
<circle cx="336.3" cy="1049" r="44.3" fill="#fff"/>
<g transform="translate(1105.1 1058.1) rotate(10.3)"><rect x="-164.5" y="-45.1" width="329" height="90.2" rx="45.1" fill="#4b9a03"/><circle cx="-72.8" cy="0.5" r="44.5" fill="#fff"/></g>
<text y="1199.5" font-size="37.9" stroke="#fff" stroke-width="0.68" fill="#2b2b2b">
<tspan x="205.16" textLength="21.24" lengthAdjust="spacingAndGlyphs">If</tspan> 
<tspan x="236.20" textLength="79.31" lengthAdjust="spacingAndGlyphs">both</tspan> 
<tspan x="324.21" textLength="133.68" lengthAdjust="spacingAndGlyphs">balance</tspan>
</text>
<text y="1239.7" font-size="37.9" stroke="#fff" stroke-width="0.68" fill="#2b2b2b">
<tspan x="128.22" textLength="132.48" lengthAdjust="spacingAndGlyphs">bubbles</tspan> 
<tspan x="269.87" textLength="54.64" lengthAdjust="spacingAndGlyphs">are</tspan> 
<tspan x="333.97" textLength="29.39" lengthAdjust="spacingAndGlyphs">in</tspan> 
<tspan x="373.97" textLength="52.51" lengthAdjust="spacingAndGlyphs">the</tspan> 
<tspan x="436.52" textLength="108.03" lengthAdjust="spacingAndGlyphs">center</tspan>
</text>
<text y="1199.5" font-size="37.9" stroke="#fff" stroke-width="0.68" fill="#2b2b2b">
<tspan x="949.01" textLength="19.99" lengthAdjust="spacingAndGlyphs">If</tspan> 
<tspan x="983.73" textLength="52.78" lengthAdjust="spacingAndGlyphs">the</tspan> 
<tspan x="1045.78" textLength="63.66" lengthAdjust="spacingAndGlyphs">two</tspan> 
<tspan x="1115.96" textLength="134.10" lengthAdjust="spacingAndGlyphs">bubbles</tspan>
</text>
<text y="1239.7" font-size="37.9" stroke="#fff" stroke-width="0.68" fill="#2b2b2b">
<tspan x="936.18" textLength="53.91" lengthAdjust="spacingAndGlyphs">are</tspan> 
<tspan x="998.33" textLength="54.70" lengthAdjust="spacingAndGlyphs">not</tspan> 
<tspan x="1062.91" textLength="29.82" lengthAdjust="spacingAndGlyphs">in</tspan> 
<tspan x="1104.07" textLength="53.35" lengthAdjust="spacingAndGlyphs">the</tspan> 
<tspan x="1166.01" textLength="106.04" lengthAdjust="spacingAndGlyphs">center</tspan>
</text>
<rect x="58.7" y="1266.7" width="554.3" height="90" rx="45" fill="#707070"/>
<rect x="828.7" y="1267.2" width="553.5" height="89.6" rx="44.8" fill="#707070"/>
<text y="1323.4" font-size="40.2" fill="#ffffff">
<tspan x="94.00" textLength="52.34" lengthAdjust="spacingAndGlyphs">the</tspan> 
<tspan x="155.98" textLength="54.45" lengthAdjust="spacingAndGlyphs">bar</tspan> 
<tspan x="221.16" textLength="26.07" lengthAdjust="spacingAndGlyphs">is</tspan> 
<tspan x="257.97" textLength="143.16" lengthAdjust="spacingAndGlyphs">perfectly</tspan> 
<tspan x="413.52" textLength="169.58" lengthAdjust="spacingAndGlyphs">horizontal</tspan>
</text>
<text y="1323.2" font-size="40.2" fill="#ffffff">
<tspan x="982.04" textLength="52.14" lengthAdjust="spacingAndGlyphs">the</tspan> 
<tspan x="1044.70" textLength="53.45" lengthAdjust="spacingAndGlyphs">bar</tspan> 
<tspan x="1108.68" textLength="27.50" lengthAdjust="spacingAndGlyphs">is</tspan> 
<tspan x="1148.84" textLength="83.12" lengthAdjust="spacingAndGlyphs">tilted</tspan>
</text>
</svg></body></html>
